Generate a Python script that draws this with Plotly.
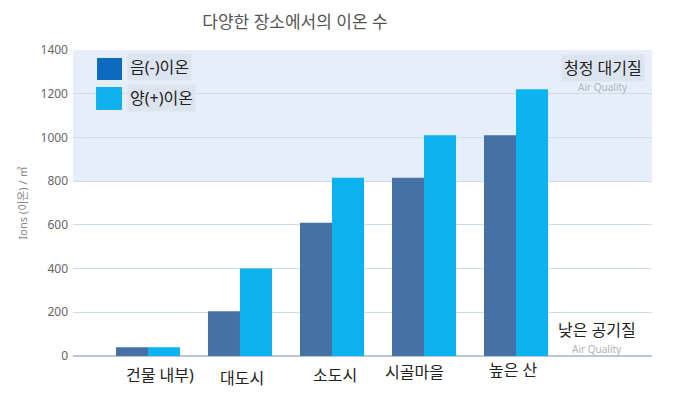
import plotly.graph_objects as go

categories = ["건물 내부)", "대도시", "소도시", "시골마을", "높은 산"]
neg_name = "음(-)이온"
pos_name = "양(+)이온"
neg_ions = [40, 205, 610, 815, 1010]
pos_ions = [40, 400, 815, 1010, 1220]
y_ticks = [0, 200, 400, 600, 800, 1000, 1200, 1400]
title_text = "다양한 장소에서의 이온 수"
y_title = "Ions (이온) / ㎥"
good_label = "청정 대기질"
bad_label = "낮은 공기질"
sub_label = "Air Quality"

# pixel nudges of the category labels, as in the source image
label_xshift = [12, 2, 3, -10, -3]
label_yshift = [-19, -22, -19, -16, -14]

dark = "#4671a5"
light = "#0db3ee"
legend_dark = "#0b6bbf"
legend_light = "#10b1ee"
font_family = "Noto Sans, Noto Sans CJK KR, sans-serif"

fig = go.Figure()
fig.add_trace(go.Bar(x=categories, y=neg_ions, name=neg_name, marker=dict(color=dark, line=dict(width=0))))
fig.add_trace(go.Bar(x=categories, y=pos_ions, name=pos_name, marker=dict(color=light, line=dict(width=0))))

shapes = [
    dict(type="rect", xref="paper", yref="y", x0=0, x1=1, y0=800, y1=1400,
         fillcolor="#e6eef9", line=dict(width=0), layer="below"),
    dict(type="rect", xref="paper", yref="paper", x0=0.0415, x1=0.0846, y0=0.902, y1=0.974,
         fillcolor=legend_dark, line=dict(width=0)),
    dict(type="rect", xref="paper", yref="paper", x0=0.0398, x1=0.0846, y0=0.804, y1=0.879,
         fillcolor=legend_light, line=dict(width=0)),
]

annotations = [
    dict(text=neg_name, xref="paper", yref="paper", x=0.093, y=0.943, xanchor="left", yanchor="middle",
         showarrow=False, bgcolor="#dce4ef", font=dict(size=16, color="#222", family=font_family), borderpad=2),
    dict(text=pos_name, xref="paper", yref="paper", x=0.093, y=0.843, xanchor="left", yanchor="middle",
         showarrow=False, bgcolor="#dce4ef", font=dict(size=16, color="#222", family=font_family), borderpad=2),
    dict(text=sub_label, xref="paper", yref="paper", x=0.916, y=0.878, xanchor="center", yanchor="middle",
         showarrow=False, font=dict(size=10, color="#b0b4ba", family=font_family)),
    dict(text=good_label, xref="paper", yref="paper", x=0.916, y=0.941, xanchor="center", yanchor="middle",
         showarrow=False, bgcolor="#dce4ef", font=dict(size=16, color="#222", family=font_family), borderpad=2),
    dict(text=sub_label, xref="paper", yref="paper", x=0.905, y=0.022, xanchor="center", yanchor="middle",
         showarrow=False, font=dict(size=10, color="#b0b4ba", family=font_family)),
    dict(text=bad_label, xref="paper", yref="paper", x=0.905, y=0.085, xanchor="center", yanchor="middle",
         showarrow=False, bgcolor="#ffffff", font=dict(size=16, color="#222", family=font_family), borderpad=2),
]
for cat, dx, dy in zip(categories, label_xshift, label_yshift):
    annotations.append(dict(text=cat, xref="x", yref="y", x=cat, y=0, xanchor="center", yanchor="middle",
                            xshift=dx, yshift=dy, showarrow=False,
                            font=dict(size=16, color="#222", family=font_family)))

fig.update_layout(
    width=680, height=395,
    margin=dict(l=65, r=36, t=42, b=47),
    paper_bgcolor="white", plot_bgcolor="white",
    barmode="group", bargap=0.304, bargroupgap=0,
    showlegend=False,
    title=dict(text=title_text, x=0.422, xanchor="center", y=0.965, yanchor="middle",
               font=dict(size=17, color="#555", family=font_family)),
    font=dict(family=font_family),
    shapes=shapes,
    annotations=annotations,
    xaxis=dict(range=[-0.815, 5.478], showgrid=False, zeroline=False, showline=False,
               ticks="", showticklabels=False),
    yaxis=dict(range=[0, 1400], tickvals=y_ticks, showgrid=True, gridcolor="#cddbeb", gridwidth=1,
               zeroline=True, zerolinecolor="#b8c8dc", zerolinewidth=2, ticks="",
               ticklabelstandoff=4,
               tickfont=dict(size=12, color="#666", family=font_family),
               title=dict(text=y_title, standoff=10, font=dict(size=11, color="#888", family=font_family))),
)

fig.write_html("out.html")
